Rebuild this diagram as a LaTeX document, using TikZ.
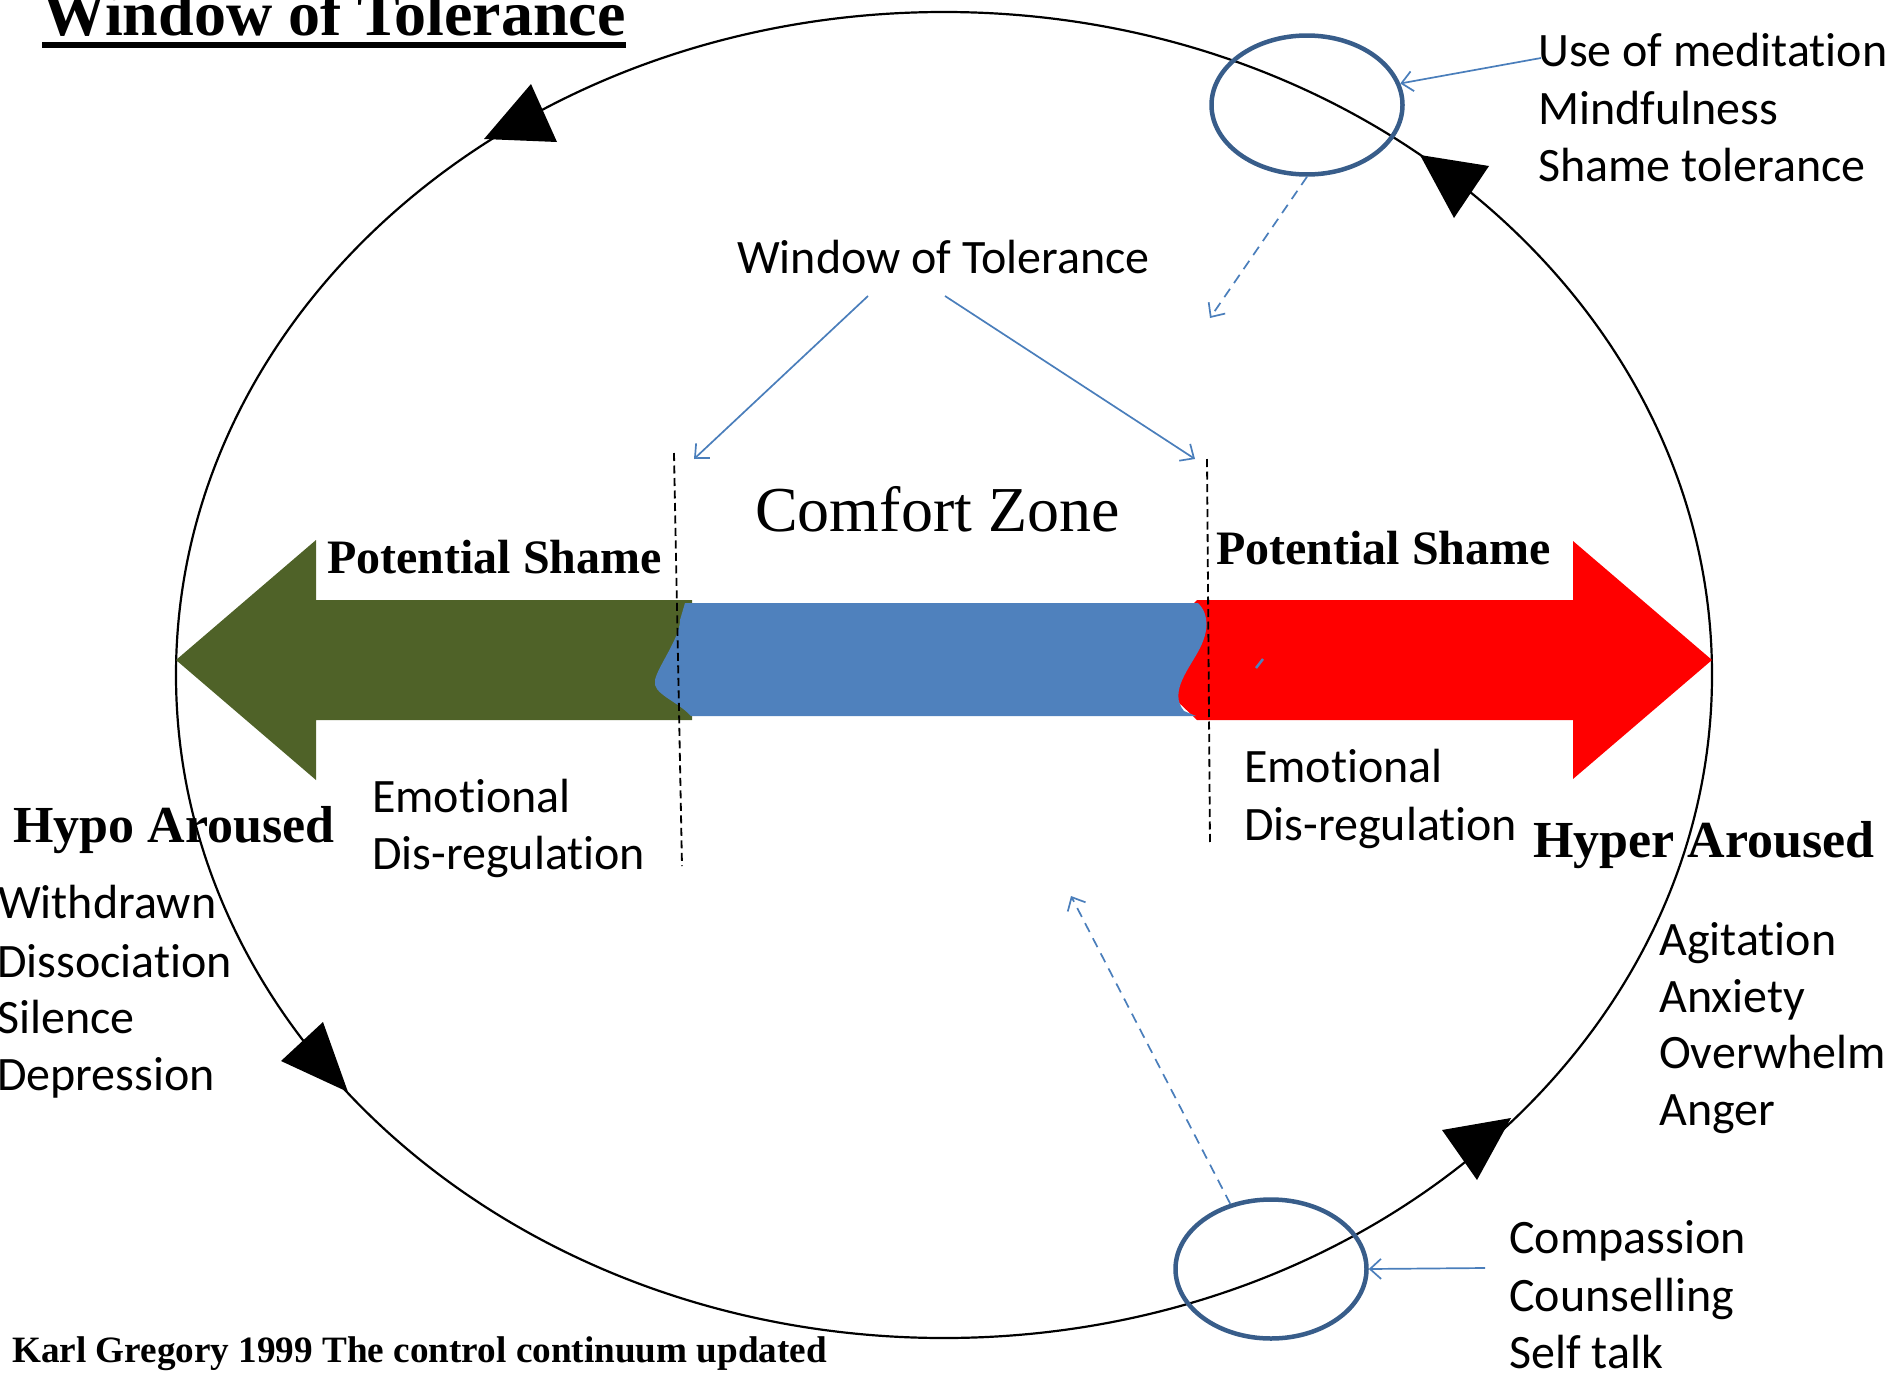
\documentclass[tikz,border=0pt]{standalone}
\usepackage{fontspec}
\setmainfont{Liberation Serif}
\newfontfamily\calfont[Ligatures=CommonOff]{Carlito}
\usetikzlibrary{arrows.meta,shapes.geometric}
\definecolor{wotGreen}{HTML}{4F6228}
\definecolor{wotBlue}{HTML}{4F81BD}
\definecolor{wotRed}{HTML}{FF0000}
\definecolor{ringBlue}{HTML}{385D8A}
\definecolor{lineBlue}{HTML}{4A7EBB}
\tikzset{
  sanslbl/.style={font=\calfont\fontsize{48}{57}\selectfont, anchor=base west, inner sep=0pt},
  shamelbl/.style={font=\bfseries\fontsize{48}{58}\selectfont, anchor=base west, inner sep=0pt},
  arousedlbl/.style={font=\bfseries\fontsize{52}{60}\selectfont, anchor=base west, inner sep=0pt},
  ring/.style={ellipse, draw=ringBlue, line width=4.5pt, minimum width=191pt, minimum height=139pt, inner sep=0pt},
  bluearrow/.style={draw=lineBlue, line width=1.7pt, -{Straight Barb[length=11pt,width=20pt,line width=1.7pt]}},
  bluedash/.style={bluearrow, dash pattern=on 10pt off 7pt},
  guide/.style={draw=black, line width=1.8pt, dash pattern=on 8pt off 4.5pt},
  cyclehead/.style={fill=black}
}
\begin{document}
\begin{tikzpicture}[x=1pt,y=-1pt]
\useasboundingbox (0,0) rectangle (1893,1373);
% big cycle
\draw[line width=2.2pt] (944,675) ellipse [x radius=768, y radius=663];
% cycle arrowheads
\fill[cyclehead] (531,84) -- (484,139) -- (557,142) -- cycle;
\fill[cyclehead] (1420,155) -- (1489,166) -- (1454,218) -- cycle;
\fill[cyclehead] (348,1092) -- (323,1022) -- (281,1061) -- cycle;
\fill[cyclehead] (1477,1180) -- (1442,1130) -- (1511,1118) -- cycle;
% green arrow (hypo)
\fill[wotGreen] (176,660) -- (316,540) -- (316,600) -- (692,600) -- (692,720) -- (316,720) -- (316,780) -- cycle;
% red arrow (hyper)
\fill[wotRed] (1197,600) -- (1573,600) -- (1573,541) -- (1712,660) -- (1573,779) -- (1573,720) -- (1197,720) -- (1176,700) -- (1176,622) -- cycle;
% blue comfort bar
\fill[wotBlue] (685,603) -- (1198,603)
  .. controls (1210,615) and (1208,632) .. (1200,648)
  .. controls (1190,668) and (1168,692) .. (1184,711)
  -- (1196,716) -- (691,716)
  .. controls (676,700) and (652,694) .. (655,680)
  .. controls (658,666) and (680,638) .. (680,620)
  -- cycle;
\draw[wotBlue, line width=2.5pt] (1256,668) -- (1263,659);
% dashed boundaries
\draw[guide] (674,453) -- (682,866);
\draw[guide] (1207,459) -- (1210,845);
% rings
\node[ring] (topring) at (1307,105) {};
\node[ring] (botring) at (1271,1269) {};
% texts
\node[anchor=base west, inner sep=0pt, font=\bfseries\fontsize{64}{70}\selectfont] (title) at (42,35) {Window of Tolerance};
\draw[line width=6pt] ([yshift=-10pt]title.base west) -- ([yshift=-10pt]title.base east);
\node[sanslbl] (wotlbl) at (737,273) {Window of Tolerance};
\node[anchor=base west, inner sep=0pt, font=\fontsize{64}{70}\selectfont] (comfort) at (755,531) {Comfort Zone};
\node[shamelbl] (shameL) at (327,573) {Potential Shame};
\node[shamelbl] (shameR) at (1216,564) {Potential Shame};
\node[arousedlbl] (hypo) at (13,842) {Hypo Aroused};
\node[arousedlbl] (hyper) at (1533,857) {Hyper Aroused};
\node[sanslbl] (emoL1) at (372,812) {Emotional};
\node[sanslbl] (emoL2) at (372,869) {Dis-regulation};
\node[sanslbl] (emoR1) at (1244,782) {Emotional};
\node[sanslbl] (emoR2) at (1244,840) {Dis-regulation};
\node[sanslbl] (hypo1) at (-2,918) {Withdrawn};
\node[sanslbl] (hypo2) at (-3,977) {Dissociation};
\node[sanslbl] (hypo3) at (-3,1033) {Silence};
\node[sanslbl] (hypo4) at (-3,1090) {Depression};
\node[sanslbl] (hyper1) at (1659,955) {Agitation};
\node[sanslbl] (hyper2) at (1659,1012) {Anxiety};
\node[sanslbl] (hyper3) at (1659,1068) {Overwhelm};
\node[sanslbl] (hyper4) at (1659,1125) {Anger};
\node[sanslbl] (med1) at (1538,66) {Use of meditation};
\node[sanslbl] (med2) at (1538,124) {Mindfulness};
\node[sanslbl] (med3) at (1538,181) {Shame tolerance};
\node[sanslbl] (comp1) at (1509,1253) {Compassion};
\node[sanslbl] (comp2) at (1509,1311) {Counselling};
\node[sanslbl] (comp3) at (1509,1368) {Self talk};
\node[anchor=base west, inner sep=0pt, font=\bfseries\fontsize{37.2}{42}\selectfont] (credit) at (12,1362) {Karl Gregory 1999 The control continuum updated};
% connectors
\coordinate (wotL) at (868,296);
\coordinate (wotR) at (945,296);
\coordinate (edgeL) at (694,459);
\coordinate (edgeR) at (1195,459);
\draw[bluearrow] (wotL) -- (edgeL);
\draw[bluearrow] (wotR) -- (edgeR);
\coordinate (medfrom) at (1541,58);
\draw[bluearrow] (medfrom) -- (topring.13);
\coordinate (compfrom) at (1485,1268);
\draw[bluearrow] (compfrom) -- (botring.east);
\coordinate (topin) at (1210,318);
\draw[bluedash] (topring.south) -- (topin);
\coordinate (botin) at (1071,896);
\draw[bluedash] (botring.122) -- (botin);
\end{tikzpicture}
\end{document}
